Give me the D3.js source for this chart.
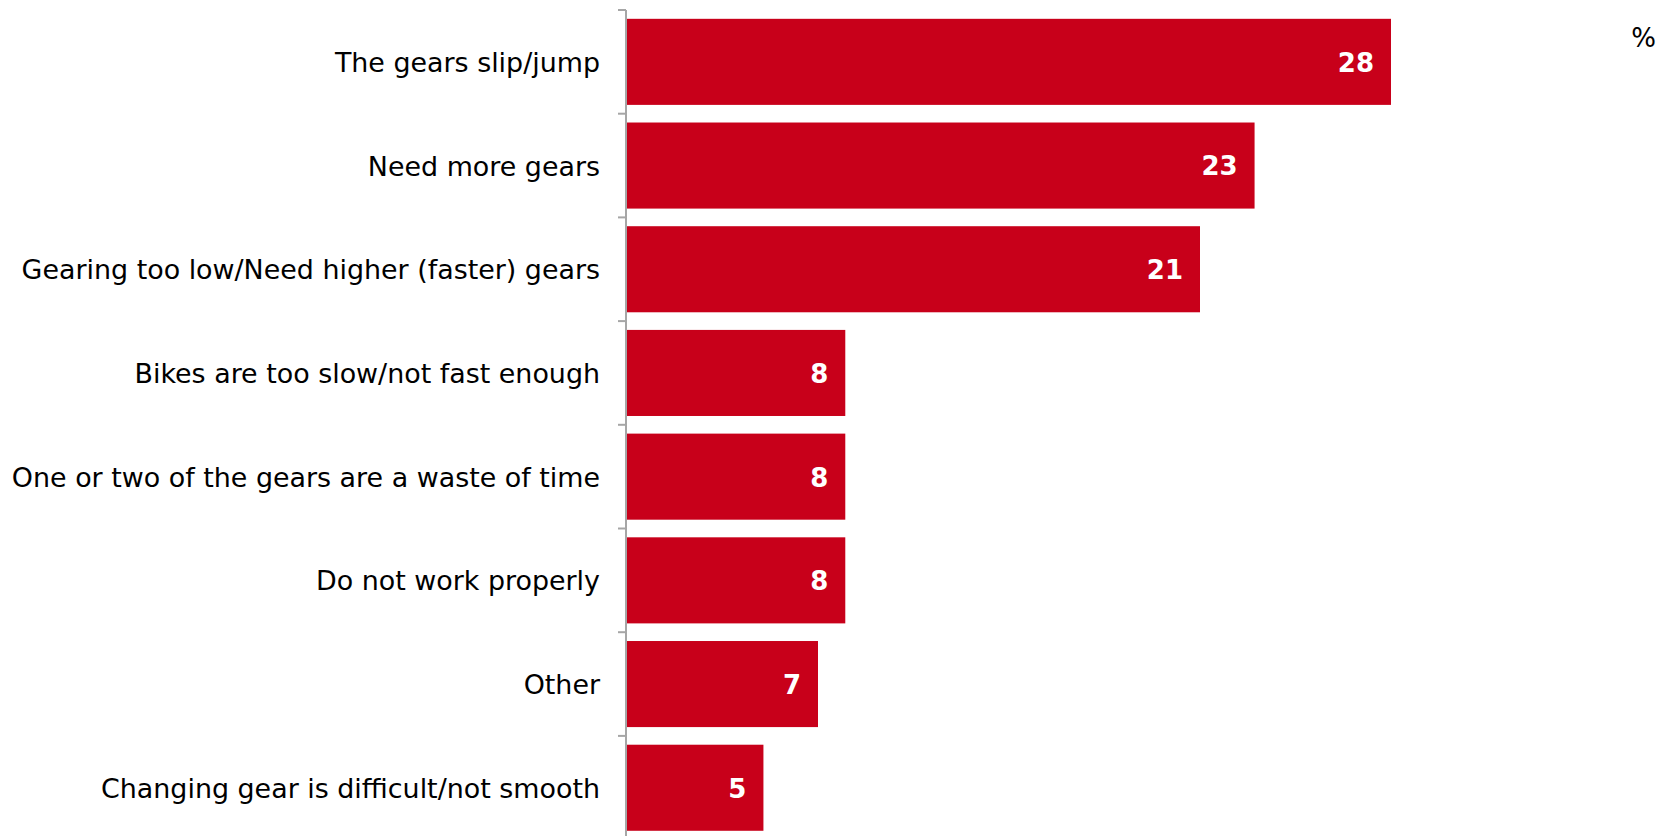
<!DOCTYPE html>
<html><head><meta charset="utf-8">
<script src="https://cdn.jsdelivr.net/npm/d3@7"></script>
<style>body{margin:0;background:#fff}svg{display:block}</style>
</head><body>
<svg id="c" width="1669" height="836"></svg>
<script>
const categories = ["The gears slip/jump","Need more gears","Gearing too low/Need higher (faster) gears","Bikes are too slow/not fast enough","One or two of the gears are a waste of time","Do not work properly","Other","Changing gear is difficult/not smooth"];
const values = [28,23,21,8,8,8,7,5];
const unitLabel = "%";

const svg = d3.select("#c");
const x0 = 626;
const x = d3.scaleLinear().domain([0,28]).range([x0+1, 1391]);
const y = d3.scaleBand().domain(categories).range([10, 839.6]).paddingInner(0.17).paddingOuter(0.085);
const step = y.step();

// bars
svg.selectAll("rect.bar").data(values).join("rect")
  .attr("x", x(0)).attr("y",(d,i)=>y(categories[i]))
  .attr("width",d=>x(d)-x(0)).attr("height",y.bandwidth())
  .attr("fill","#c8001a");

// axis line + ticks
svg.append("line").attr("x1",x0).attr("x2",x0).attr("y1",10).attr("y2",836)
  .attr("stroke","#a6a6a6").attr("stroke-width",2);
svg.selectAll("line.tick").data(d3.range(categories.length+1)).join("line")
  .attr("x1",x0-8).attr("x2",x0).attr("y1",i=>10+i*step).attr("y2",i=>10+i*step)
  .attr("stroke","#a6a6a6").attr("stroke-width",2);

// category labels
svg.selectAll("text.cat").data(categories).join("text")
  .attr("x",600).attr("y",d=>y(d)+y.bandwidth()/2).attr("dy","0.37em")
  .attr("text-anchor","end").attr("font-family","DejaVu Sans").attr("font-size",26.9)
  .attr("fill","#000").text(d=>d);

// value labels
svg.selectAll("text.val").data(values).join("text")
  .attr("x",d=>x(d)-17).attr("y",(d,i)=>y(categories[i])+y.bandwidth()/2).attr("dy","0.38em")
  .attr("text-anchor","end").attr("font-family","DejaVu Sans").attr("font-weight","bold").attr("font-size",26)
  .attr("fill","#fff").text(d=>d);

svg.append("text").attr("x",1656).attr("y",37).attr("dy","0.37em").attr("text-anchor","end")
  .attr("font-family","DejaVu Sans").attr("font-size",26).text(unitLabel);
</script>
</body></html>
